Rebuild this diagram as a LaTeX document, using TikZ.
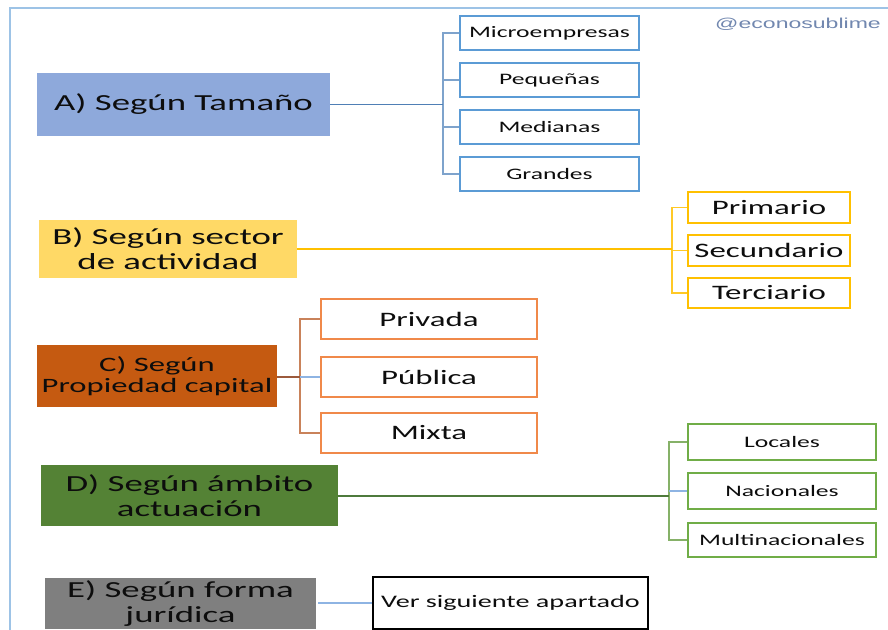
\documentclass[tikz,border=0pt]{standalone}
\usepackage{fontspec}
\setmainfont{Carlito}[FakeStretch=1.6]
\newfontfamily\markfont{Liberation Sans}[FakeStretch=1.6]
\usepackage{xcolor}
\usepackage{tikz}

\definecolor{frameblue}{HTML}{9DC3E6}
\definecolor{tamFill}{HTML}{8EA9DB}
\definecolor{tamLine}{HTML}{4F7FB5}
\definecolor{tamBrack}{HTML}{7EA3CC}
\definecolor{tamEdge}{HTML}{5B9BD5}
\definecolor{secFill}{HTML}{FFD966}
\definecolor{secLine}{HTML}{FFC000}
\definecolor{propFill}{HTML}{C55A11}
\definecolor{propLine}{HTML}{9C5A3C}
\definecolor{propBrack}{HTML}{C9825A}
\definecolor{propEdge}{HTML}{F0894A}
\definecolor{ambFill}{HTML}{548235}
\definecolor{ambLine}{HTML}{4E7A3C}
\definecolor{ambBrack}{HTML}{86B168}
\definecolor{ambEdge}{HTML}{70AD47}
\definecolor{jurFill}{HTML}{7F7F7F}
\definecolor{jurLine}{HTML}{8EB4E3}

\newcommand{\putBox}[7]{% name, top left x,y, bottom right x,y, style, text
  \node[#6, minimum width={(#4-#2)*0.75pt}, minimum height={(#5-#3)*0.75pt}]
    (#1) at ({(#2+#4)/2},{(#3+#5)/2}) {#7};
}

\begin{document}
\begin{tikzpicture}[x=0.75pt,y=-0.75pt,
  every node/.style={text=black!95,inner sep=0pt,align=center},
  cat/.style={font=\fontsize{17.25}{18.75}\selectfont},
  catsmall/.style={font=\fontsize{15.3}{15.75}\selectfont},
  subsmall/.style={draw,fill=white,line width=1.1pt,font=\fontsize{12}{14}\selectfont},
  subbig/.style={draw,fill=white,line width=1.1pt,font=\fontsize{15.4}{17}\selectfont},
  link/.style={line width=1.1pt}]
\useasboundingbox (0,0) rectangle (888,630);

% Frame
\draw[frameblue,line width=1.5pt] (10,650) -- (10,8) -- (900,8);
\node[font=\markfont\fontsize{10.8}{12}\selectfont,text=tamFill!80!black] (mark) at (798,24) {@econosublime};

% A) Tamano
\putBox{tam}{37}{73}{330}{136}{cat,fill=tamFill}{A) Según Tamaño}
\putBox{micro}{460}{16}{639}{50}{subsmall,draw=tamEdge}{Microempresas}
\putBox{peq}{460}{63}{639}{97}{subsmall,draw=tamEdge}{Pequeñas}
\putBox{med}{460}{110}{639}{144}{subsmall,draw=tamEdge}{Medianas}
\putBox{gra}{460}{157}{639}{191}{subsmall,draw=tamEdge}{Grandes}
\coordinate (jTam) at (443,104.5);
\draw[link,tamBrack] (micro.west) -| (jTam);
\draw[link,tamBrack] (peq.west) -| (jTam);
\draw[link,tamBrack] (med.west) -| (jTam);
\draw[link,tamBrack] (gra.west) -| (jTam);
\draw[link,tamLine] (tam.east) -- (jTam);

% B) Sector
\putBox{sec}{39}{220}{297}{278}{cat,fill=secFill}{B) Según sector\\de actividad}
\putBox{prim}{688}{192}{850}{223}{subbig,draw=secLine}{Primario}
\putBox{secu}{688}{235}{850}{266}{subbig,draw=secLine}{Secundario}
\putBox{terc}{688}{278}{850}{308}{subbig,draw=secLine}{Terciario}
\coordinate (jSec) at (672,249);
\draw[link,secLine!85] (prim.west) -| (jSec);
\draw[link,secLine!85] (terc.west) -| (jSec);
\draw[link,secLine!85] (secu.west) -- (secu.west -| jSec);
\draw[link,secLine] (sec.east |- jSec) -- (jSec);

% C) Propiedad
\putBox{prop}{37}{345}{277}{407}{catsmall,fill=propFill}{C) Según\\Propiedad capital}
\putBox{priv}{321}{299}{537}{339}{subbig,draw=propEdge}{Privada}
\putBox{publ}{321}{357}{537}{397}{subbig,draw=propEdge}{Pública}
\putBox{mixt}{321}{413}{537}{453}{subbig,draw=propEdge}{Mixta}
\coordinate (jProp) at (300,377);
\draw[link,propBrack] (priv.west) -| (jProp);
\draw[link,propBrack] (mixt.west) -| (jProp);
\draw[link,jurLine] (publ.west) -- (publ.west -| jProp);
\draw[link,propLine] (prop.east |- jProp) -- (jProp);

% D) Ambito
\putBox{amb}{41}{465}{338}{526}{cat,fill=ambFill}{D) Según ámbito\\actuación}
\putBox{loc}{688}{424}{876}{460}{subsmall,draw=ambEdge}{Locales}
\putBox{nac}{688}{473}{876}{509}{subsmall,draw=ambEdge}{Nacionales}
\putBox{mult}{688}{523}{876}{557}{subsmall,draw=ambEdge}{Multinacionales}
\coordinate (jAmb) at (669,496);
\draw[link,ambBrack] (loc.west) -| (jAmb);
\draw[link,ambBrack] (mult.west) -| (jAmb);
\draw[link,jurLine] (nac.west) -- (nac.west -| jAmb);
\draw[link,ambLine] (amb.east |- jAmb) -- (jAmb);

% E) Forma juridica
\putBox{jur}{45}{578}{316}{629}{cat,fill=jurFill}{E) Según forma\\jurídica}
\putBox{ver}{373}{577}{648}{629}{draw=black,line width=1.1pt,font=\fontsize{13.2}{15}\selectfont}{Ver siguiente apartado}
\draw[link,jurLine] (jur.east |- ver.west) ++(2,0) -- (ver.west);
\end{tikzpicture}
\end{document}
